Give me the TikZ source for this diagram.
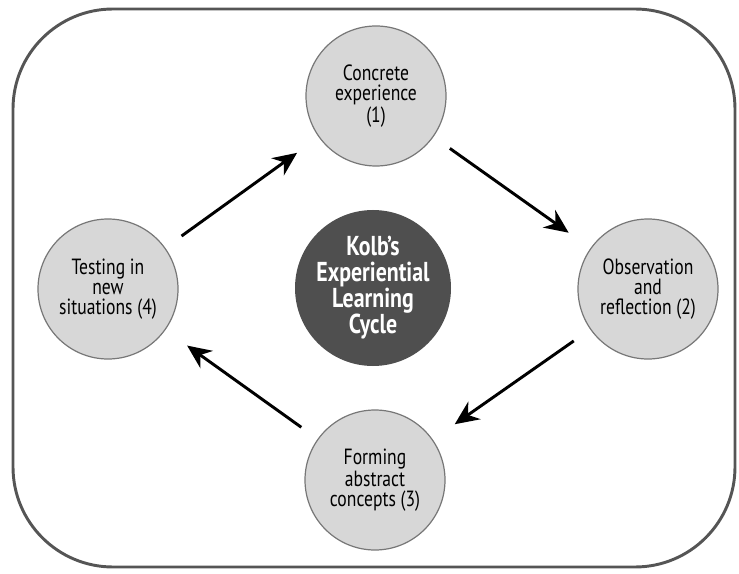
\documentclass[tikz,border=0pt]{standalone}
\usepackage{fontspec}
\setmainfont{PT Sans}[FakeStretch=0.8]
\usetikzlibrary{arrows.meta}
\definecolor{stagefill}{HTML}{D7D7D7}
\definecolor{stageline}{HTML}{777777}
\definecolor{hubfill}{HTML}{4F4F4F}
\definecolor{framegray}{HTML}{555555}
\tikzset{
  stage/.style={circle, draw=stageline, line width=0.9pt, fill=stagefill,
    minimum size=105pt, inner sep=0pt, align=center,
    font=\fontsize{16.5}{15}\selectfont},
  hub/.style={circle, fill=hubfill, minimum size=117pt, inner sep=0pt,
    align=center, text=white, font=\fontsize{20.5}{19.5}\selectfont\bfseries},
  cyclearrow/.style={line width=2.2pt, -{Stealth[length=18pt, width=16pt]},
    shorten <=15pt, shorten >=20pt}
}
\begin{document}
\begin{tikzpicture}[x=0.75pt, y=-0.75pt]
    \useasboundingbox (0, 0) rectangle (739, 574);
    \draw[framegray, line width=2.2pt, rounded corners=75pt] (13, 9) rectangle (735, 567);

    \node[stage] (concrete) at (376, 96) {Concrete\\experience\\(1)};
    \node[stage] (observe) at (648, 289) {Observation\\and\\reflection (2)};
    \node[stage] (abstract) at (375, 480) {Forming\\abstract\\concepts (3)};
    \node[stage] (testing) at (108, 289) {Testing in\\new\\situations (4)};
    \node[hub] (kolb) at (373, 288) {Kolb’s\\Experiential\\Learning\\Cycle};

    \draw[cyclearrow] (testing) -- (concrete);
    \draw[cyclearrow] (concrete) -- (observe);
    \draw[cyclearrow] (observe) -- (abstract);
    \draw[cyclearrow] (abstract) -- (testing);
\end{tikzpicture}
\end{document}
